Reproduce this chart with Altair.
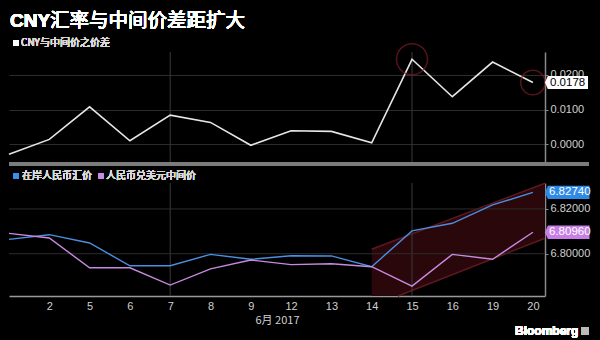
import altair as alt
import pandas as pd

# ---------------- data ----------------
days = ["1", "2", "5", "6", "7", "8", "9", "12", "13", "14", "15", "16", "19", "20"]
spread = [-0.0029, 0.0014, 0.0108, 0.0010, 0.0084, 0.0063, -0.0003, 0.0039,
          0.0037, 0.0004, 0.0245, 0.0137, 0.0237, 0.0178]
onshore = [6.8064, 6.8085, 6.8048, 6.7946, 6.7946, 6.7997, 6.7975, 6.7991,
           6.7990, 6.7942, 6.8102, 6.8136, 6.8218, 6.8274]
fixing = [6.8091, 6.8070, 6.7937, 6.7937, 6.7860, 6.7932, 6.7972, 6.7951,
          6.7955, 6.7942, 6.7855, 6.7997, 6.7975, 6.8096]
series_names = ["在岸人民币汇价", "人民币兑美元中间价"]
series_colors = ["#4a8fe0", "#c88ae0"]

# trend channel (upper / lower bounds)
chan_x = [9, 9.65, 13.3]
chan_hi = [6.8020, 6.8065, 6.8315]
chan_lo = [6.7811, 6.7811, 6.8069]
upper_x = [9, 13.3]
upper_y = [6.8020, 6.8315]
lower_x = [9.65, 13.3]
lower_y = [6.7811, 6.8069]

highlight_idx = [10, 13]
highlight_size = [960, 600]
vlines = [4, 10]
bottom_grid = [6.80, 6.82]
top_ticks = [0.0, 0.01, 0.02]

X_MAX = 13.3
top_domain = [-0.0057, 0.0266]
bot_domain = [6.7811, 6.8316]

W = 536
H_TOP = 112
H_BOT = 113

idx = list(range(len(days)))
df_top = pd.DataFrame({"i": idx, "v": spread})
df_bot = pd.DataFrame({
    "i": idx + idx,
    "v": onshore + fixing,
    "s": [series_names[0]] * len(idx) + [series_names[1]] * len(idx),
})
df_chan = pd.DataFrame({"i": chan_x, "v": chan_hi, "lo": chan_lo})
df_bounds = pd.DataFrame({
    "i": upper_x + lower_x,
    "v": upper_y + lower_y,
    "g": ["u", "u", "l", "l"],
})
df_hl = pd.DataFrame({"i": highlight_idx,
                      "v": [spread[k] for k in highlight_idx],
                      "sz": highlight_size})
df_vl = pd.DataFrame({"i": vlines})
df_hg = pd.DataFrame({"v": bottom_grid})

last = len(days) - 1
df_lab_top = pd.DataFrame({"i": [X_MAX], "v": [spread[last]],
                           "t": [f"{spread[last]:.4f}"]})
df_lab_bot = pd.DataFrame({"i": [X_MAX, X_MAX], "v": [onshore[last], fixing[last]],
                           "t": [f"{onshore[last]:.5f}", f"{fixing[last]:.5f}"],
                           "s": series_names})

xscale = alt.Scale(domain=[0, X_MAX], nice=False, zero=False)
label_arr = "[" + ",".join(f"'{d}'" for d in days) + "]"

BOX = "M0,0 L0.13,-0.3 L2,-0.3 L2,0.3 L0.13,0.3 Z"
GRID = "#2c2c2c"
AXC = "#8a8a8a"
LBL = "#d0d0d0"
CJK = "Noto Sans CJK SC"

x_top_axis = None
x_bot_axis = alt.Axis(
    values=list(range(1, len(days))), labelExpr=f"{label_arr}[datum.value]",
    ticks=False, grid=False, domainColor="#9a9a9a", domainWidth=1.5,
    labelColor=LBL, labelFontSize=11, labelFont="Liberation Sans",
    labelPadding=4, title="6月 2017", titleColor=LBL, titleFontSize=11,
    titleFont=CJK, titleFontWeight="normal", titlePadding=3)
y_top_axis = alt.Axis(
    orient="right", values=top_ticks, format=".4f", grid=True,
    gridColor=GRID, gridWidth=1, domainColor=AXC, domainWidth=1.5,
    tickColor=AXC, tickSize=3, labelColor=LBL, labelFontSize=11,
    labelFont="Liberation Sans", labelPadding=2, title=None)
y_bot_axis = alt.Axis(
    orient="right", values=bottom_grid, format=".5f", grid=False,
    domainColor=AXC, domainWidth=1.5, tickColor=AXC, tickSize=3,
    labelColor=LBL, labelFontSize=11, labelFont="Liberation Sans",
    labelPadding=2, title=None)

# ---------------- top panel ----------------
ytop = alt.Scale(domain=top_domain, nice=False, zero=False)
XT = alt.X("i:Q", scale=xscale, axis=x_top_axis)
YT = alt.Y("v:Q", scale=ytop, axis=y_top_axis)

pin_top = alt.Chart(df_top).mark_rect(opacity=0).encode(
    x=alt.value(-9), x2=alt.value(0), y=alt.value(-52), y2=alt.value(0))

vl_top = alt.Chart(df_vl).mark_rule(color="#3a3a3a", strokeWidth=1).encode(x=XT)

sep = alt.Chart(df_top).mark_rule(color="#7c7c7c", strokeWidth=3).encode(
    x=alt.value(0), x2=alt.value(580), y=alt.value(H_TOP))

line_top = alt.Chart(df_top).mark_line(color="#e6e6e6", strokeWidth=1.6).encode(
    x=XT, y=YT)

circles = alt.Chart(df_hl).mark_point(shape="circle", filled=False,
                                      color="#7d1c26", strokeWidth=1.5).encode(
    x=XT, y=YT, size=alt.Size("sz:Q", scale=None, legend=None))

box_top = alt.Chart(df_lab_top).mark_point(shape=BOX, filled=True, size=1850,
                                           color="#ffffff", opacity=1).encode(
    x=XT, y=YT)
txt_top = alt.Chart(df_lab_top).mark_text(align="left", dx=5, fontSize=11.5,
                                          font="Liberation Sans", color="#000000").encode(
    x=XT, y=YT, text="t:N")

title_a = alt.Chart(df_top).mark_text(
    text="CNY", align="left", baseline="middle", fontSize=19, fontWeight="bold",
    font="Liberation Sans", color="#ffffff").encode(
    x=alt.value(1), y=alt.value(-31))
title_b = alt.Chart(df_top).mark_text(
    text="汇率与中间价差距扩大", align="left", baseline="middle", fontSize=19.5,
    font=CJK, color="#ffffff").encode(
    x=alt.value(41), y=alt.value(-31))

leg_top_sq = alt.Chart(df_top).mark_point(shape="square", filled=True, size=36,
                                          color="#ffffff", opacity=1).encode(
    x=alt.value(7), y=alt.value(-9))
leg_top_tx = alt.Chart(df_top).mark_text(
    text="CNY与中间价之价差", align="left", baseline="middle", fontSize=10,
    font=CJK, color="#d8d8d8").encode(x=alt.value(12), y=alt.value(-9))

top = alt.layer(pin_top, vl_top, line_top, sep, circles, box_top, txt_top,
                title_a, title_b, leg_top_sq, leg_top_tx).properties(
    width=W, height=H_TOP)

# ---------------- bottom panel ----------------
ybot = alt.Scale(domain=bot_domain, nice=False, zero=False)
cscale = alt.Scale(domain=series_names, range=series_colors)
XB = alt.X("i:Q", scale=xscale, axis=x_bot_axis)
YB = alt.Y("v:Q", scale=ybot, axis=y_bot_axis)

pin_bot = alt.Chart(df_top).mark_rect(opacity=0).encode(
    x=alt.value(0), x2=alt.value(591), y=alt.value(0), y2=alt.value(157))

chan = alt.Chart(df_chan).mark_area(color="#2a070b", opacity=1).encode(
    x=XB, y=YB, y2="lo:Q")

bounds = alt.Chart(df_bounds).mark_line(color="#5e1820", strokeWidth=1.5).encode(
    x=XB, y=YB, detail="g:N")

vl_bot = alt.Chart(df_vl).mark_rule(color="#3a3a3a", strokeWidth=1).encode(x=XB)

hg = alt.Chart(df_hg).mark_rule(color=GRID, strokeWidth=1).encode(y=YB)

lines_bot = alt.Chart(df_bot).mark_line(strokeWidth=1.4).encode(
    x=XB, y=YB,
    color=alt.Color("s:N", scale=cscale, legend=None),
    detail="s:N")

box_bot = alt.Chart(df_lab_bot).mark_point(shape=BOX, filled=True, size=1980,
                                           opacity=1).encode(
    x=XB, y=YB,
    fill=alt.Fill("s:N", scale=alt.Scale(domain=series_names,
                                         range=["#2f8ae6", "#c77fe6"]), legend=None))
txt_bot = alt.Chart(df_lab_bot).mark_text(align="left", dx=4, fontSize=11.5,
                                          font="Liberation Sans", color="#ffffff").encode(
    x=XB, y=YB, text="t:N")

leg1_sq = alt.Chart(df_top).mark_point(shape="square", filled=True, size=36,
                                       color="#3d8ee8", opacity=1).encode(
    x=alt.value(7), y=alt.value(-7))
leg1_tx = alt.Chart(df_top).mark_text(
    text=series_names[0], align="left", baseline="middle", fontSize=10,
    font=CJK, color="#d8d8d8").encode(x=alt.value(13), y=alt.value(-7))
leg2_sq = alt.Chart(df_top).mark_point(shape="square", filled=True, size=36,
                                       color="#c589e6", opacity=1).encode(
    x=alt.value(92), y=alt.value(-7))
leg2_tx = alt.Chart(df_top).mark_text(
    text=series_names[1], align="left", baseline="middle", fontSize=10,
    font=CJK, color="#d8d8d8").encode(x=alt.value(97), y=alt.value(-7))

bbg = alt.Chart(df_top).mark_text(
    text="Bloomberg", align="left", baseline="middle", fontSize=12,
    fontWeight="bold", font="Liberation Sans", color="#ffffff").encode(
    x=alt.value(506), y=alt.value(148))
bbg_icon = alt.Chart(df_top).mark_point(shape="square", filled=True, size=60,
                                        color="#bbbbbb", opacity=1).encode(
    x=alt.value(576), y=alt.value(148))

bottom = alt.layer(pin_bot, chan, bounds, vl_bot, hg, lines_bot, box_bot, txt_bot,
                   leg1_sq, leg1_tx, leg2_sq, leg2_tx, bbg, bbg_icon).properties(
    width=W, height=H_BOT)

chart = alt.vconcat(top, bottom, spacing=19, bounds="flush").properties(
    background="#000000", padding=0
).configure_view(stroke=None)

chart.save("out.html", embed_options={"renderer": "svg", "actions": False})
